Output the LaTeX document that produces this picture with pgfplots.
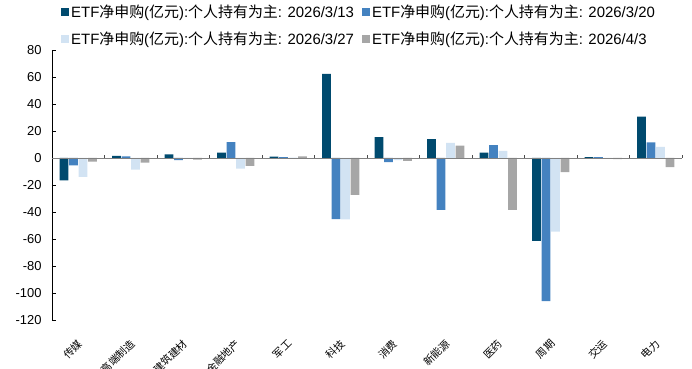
\documentclass[border=0pt]{standalone}
\usepackage{fontspec}
\setmainfont{Liberation Sans}
\newfontfamily\cjk{Noto Sans CJK SC}
\usepackage{pgfplots}
\usepackage{pgfplotstable}
\pgfplotsset{compat=1.18}
\definecolor{cA}{RGB}{0,74,110}
\definecolor{cB}{RGB}{68,130,192}
\definecolor{cC}{RGB}{210,227,243}
\definecolor{cD}{RGB}{166,166,166}
\pgfplotstableread{
x a b c d
0 -16.5 -5.4 -14.0 -2.7
1 1.5 1.2 -8.7 -3.5
2 2.6 -1.5 -0.3 -1.2
3 4.0 11.8 -7.8 -5.8
4 1.0 0.6 0.3 1.2
5 62.4 -45.2 -45.5 -27.3
6 15.4 -3.0 -1.5 -2.2
7 14.0 -38.5 11.2 9.2
8 4.0 9.5 5.2 -38.5
9 -61.4 -106.0 -54.5 -10.4
10 0.7 0.6 -0.5 -0.8
11 30.6 11.5 8.2 -6.7
}\data
\begin{document}
\begin{tikzpicture}
\begin{axis}[
  name=ax,
  scale only axis, width=630bp, height=270bp,
  xmin=-0.5, xmax=11.5, ymin=-120, ymax=80,
  ybar=0.9bp, bar width=8.6bp,
  axis x line*=bottom, axis y line*=left,
  x axis line style={draw=none},
  y axis line style={black, line width=0.9bp},
  xtick={0,...,11},
  major x tick style={draw=none},
  xticklabels={传媒,高端制造,建筑建材,金融地产,军工,科技,消费,新能源,医药,周期,交运,电力},
  xticklabel style={rotate=45, anchor=north east, inner sep=0pt, yshift=-9bp, xshift=-11bp, font=\cjk\fontsize{10.5}{12}\selectfont},
  ytick={-120,-100,...,80},
  ytick align=inside, major tick length=4bp,
  major y tick style={black, line width=0.8bp},
  yticklabel style={font=\fontsize{13}{15}\selectfont, xshift=-7bp},
  /pgf/number format/assume math mode=true,
  legend columns=2,
  legend cell align=left,
  legend style={at={(axis description cs:0,1)}, anchor=south west, xshift=6bp, yshift=0bp,
    draw=none, fill=none, font=\fontsize{15}{16}\selectfont, row sep=9bp,
    /tikz/every even column/.append style={column sep=6bp}},
  legend image code/.code={\fill[#1] (0bp,-4bp) rectangle (8bp,4bp);},
  clip=false,
]
\addplot[fill=cA, draw=none] table[x=x, y=a] {\data};
\addplot[fill=cB, draw=none] table[x=x, y=b] {\data};
\addplot[fill=cC, draw=none] table[x=x, y=c] {\data};
\addplot[fill=cD, draw=none] table[x=x, y=d] {\data};
\legend{ETF{\cjk 净申购}({\cjk 亿元}):{\cjk 个人持有为主}: 2026/3/13,
        ETF{\cjk 净申购}({\cjk 亿元}):{\cjk 个人持有为主}: 2026/3/20,
        ETF{\cjk 净申购}({\cjk 亿元}):{\cjk 个人持有为主}: 2026/3/27,
        ETF{\cjk 净申购}({\cjk 亿元}):{\cjk 个人持有为主}: 2026/4/3}
\draw[gray, line width=0.9bp] (axis cs:-0.5,0) -- (axis cs:11.5,0);
\pgfplotsinvokeforeach{0,...,11}{
  \draw[gray!60!black, line width=0.8bp] (axis cs:#1.5,0) -- (axis cs:#1.5,2.2);
}
\end{axis}
\pgfresetboundingbox
\path[use as bounding box] ([shift={(-52bp,-49bp)}]ax.south west) rectangle ([shift={(10bp,50bp)}]ax.north east);
\end{tikzpicture}
\end{document}
